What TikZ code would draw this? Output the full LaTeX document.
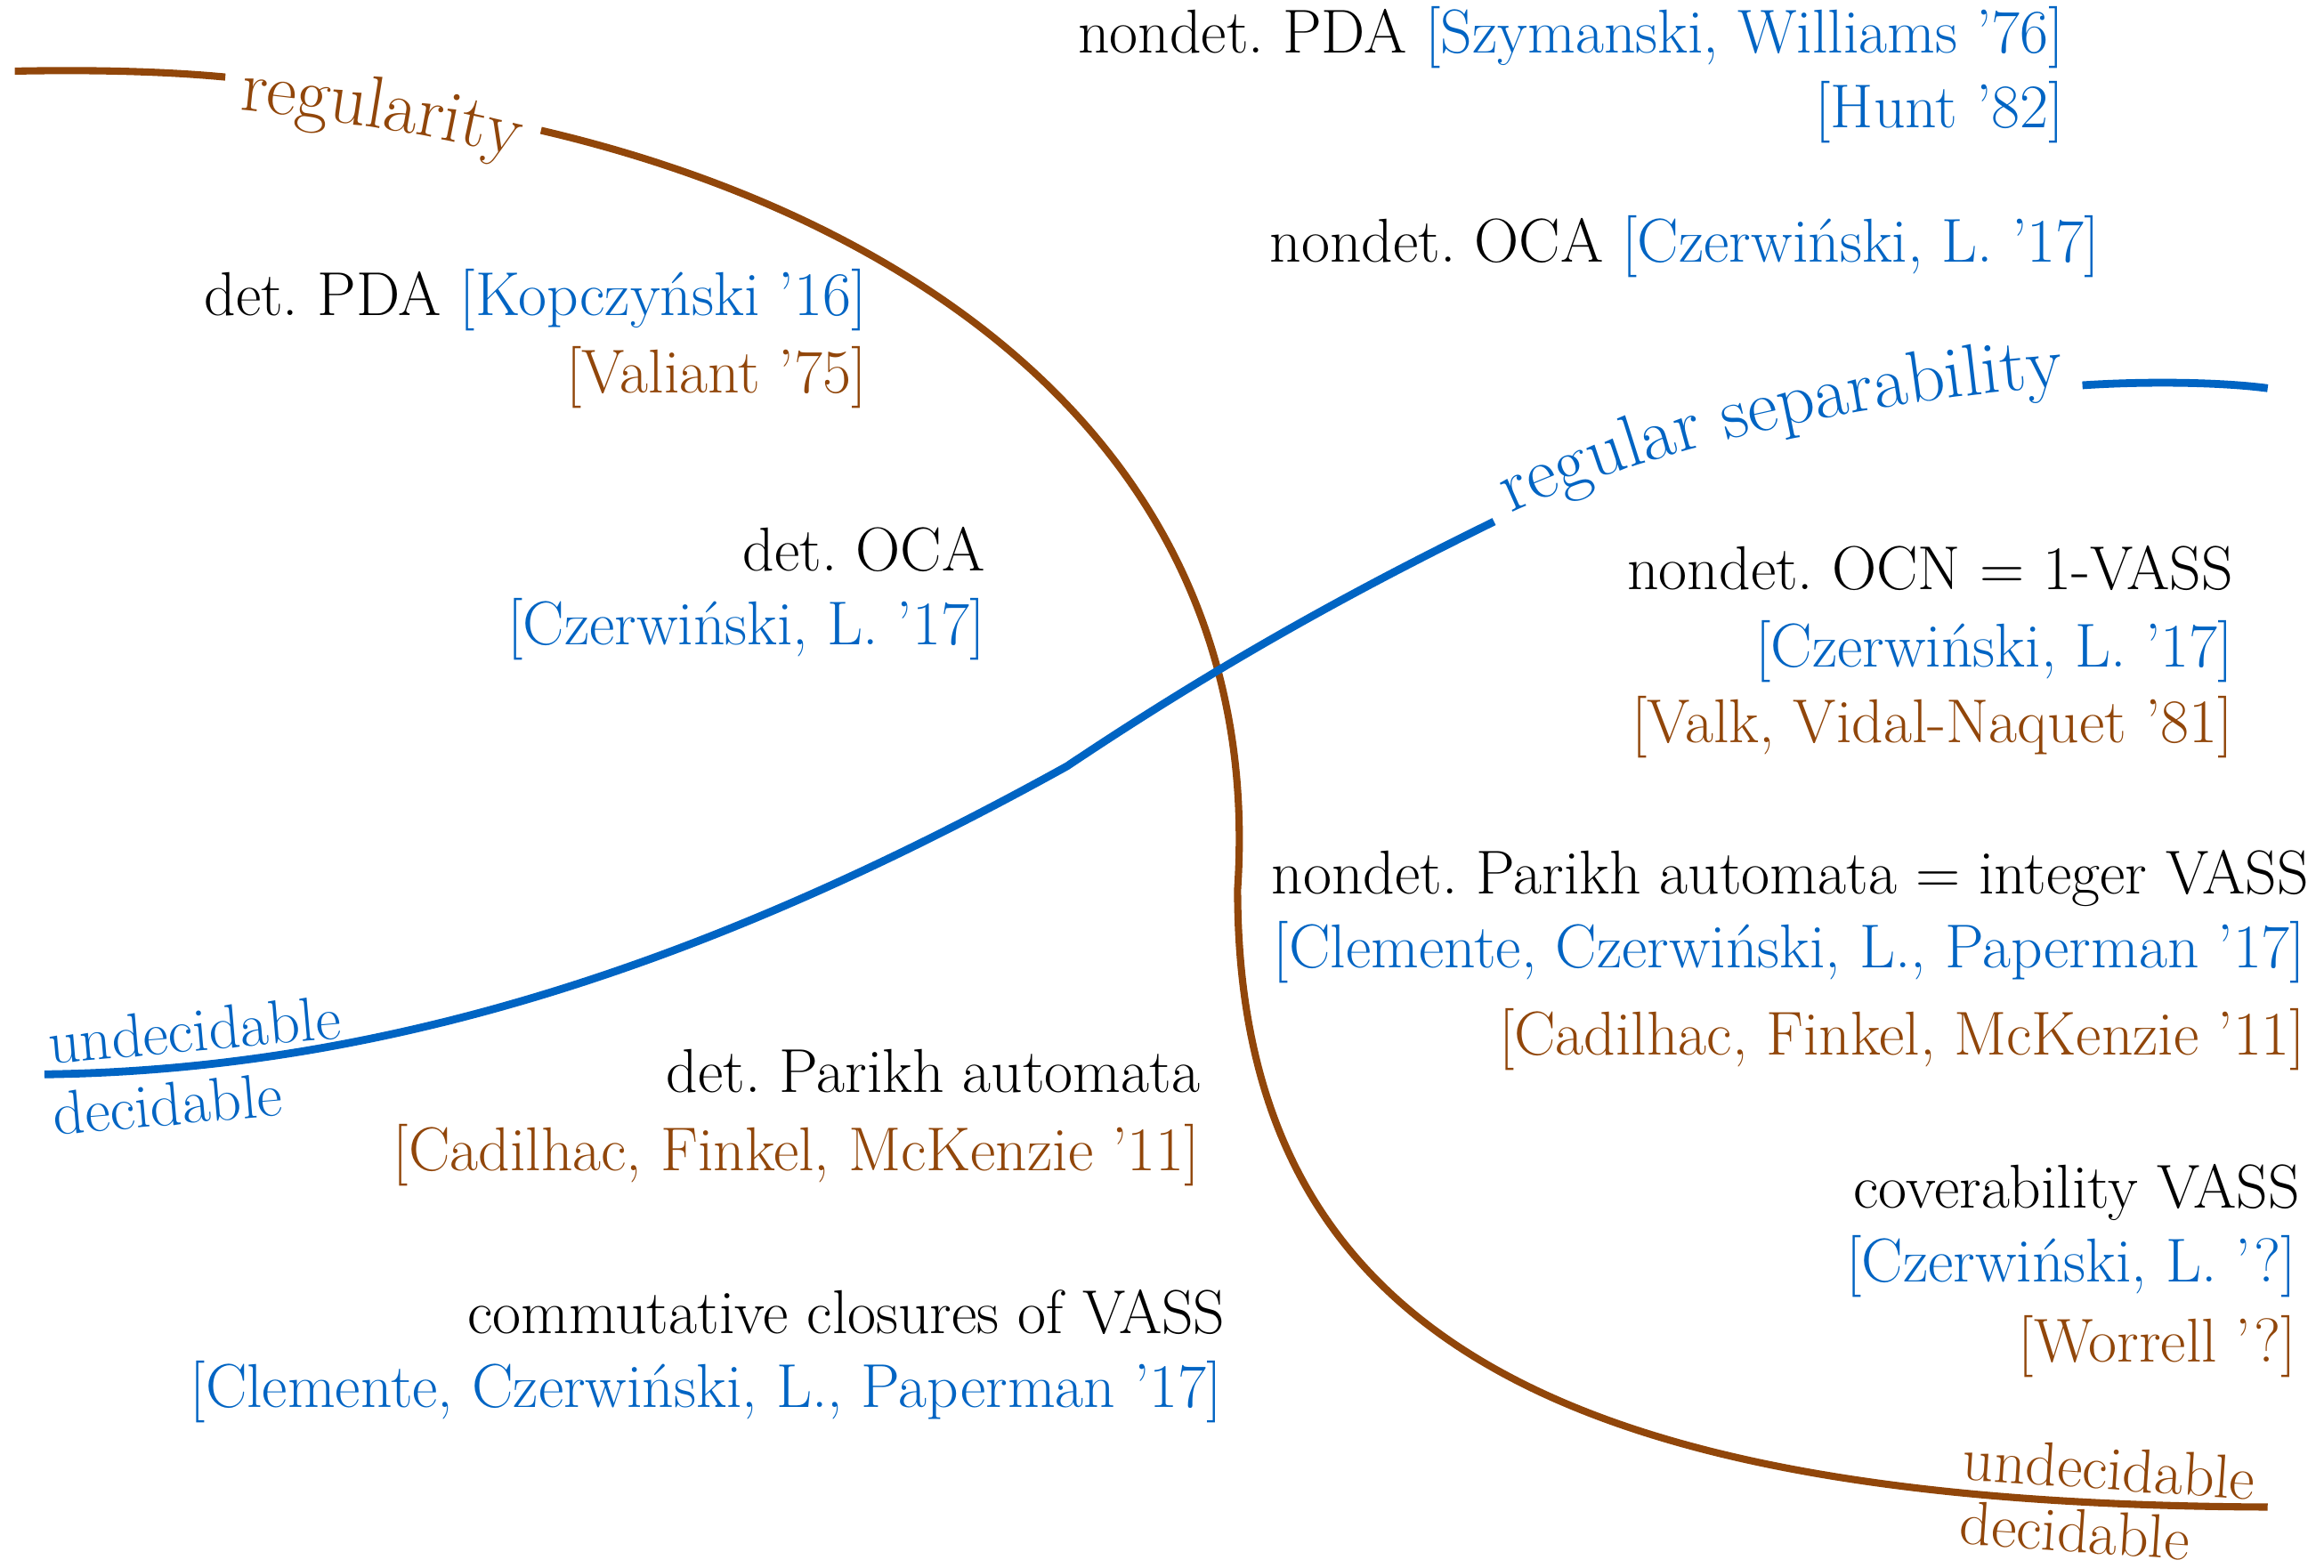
\documentclass[tikz,border=0pt]{standalone}
\usepackage{fontspec}
\usetikzlibrary{decorations.text}
\definecolor{regbrown}{RGB}{145,70,10}
\definecolor{sepblue}{RGB}{0,100,195}
\tikzset{
  regline/.style={draw=regbrown, line width=2.3pt},
  sepline/.style={draw=sepblue, line width=2.5pt},
  ref/.style={anchor=base east, inner sep=0pt},
}
\frenchspacing
\begin{document}
\begin{tikzpicture}[x=0.016652cm, y=0.016652cm,
    every node/.style={font=\fontsize{19.8}{24}\selectfont}]
  \useasboundingbox (0,0) rectangle (1568,-1058);
  % regularity curve
  \draw[regline] (10,-48) .. controls (60,-47) and (110,-48) .. (152,-52);
  \path[decorate, decoration={text along path, text align=center, raise=-10pt,
      text={|\color{regbrown}\fontsize{23.5}{28}\selectfont|regularity}}]
    (152,-52) .. controls (219,-58) and (297,-70) .. (365,-88);
  \draw[regline] (365,-88) .. controls (610,-145) and (855,-300) .. (835,-600)
    .. controls (835,-900) and (1050,-1015) .. (1530,-1017);
  % regular separability curve
  \draw[sepline] (30,-725) .. controls (260,-722) and (480,-650) .. (720,-517)
    .. controls (820,-450) and (910,-400) .. (1008,-352);
  \path[decorate, decoration={text along path, text align=center, raise=0pt,
      text={|\color{sepblue}\fontsize{23.5}{28}\selectfont|regular separability}}]
    (1008,-352) .. controls (1126,-294) and (1292,-267) .. (1405,-260);
  \draw[sepline] (1405,-260) .. controls (1450,-257) and (1500,-258) .. (1530,-262);
  % border labels
  \node[rotate=5, text=sepblue] (bundec) at (131,-695) {undecidable};
  \node[rotate=5, text=sepblue] (bdec) at (113,-745) {decidable};
  \node[rotate=-4, text=regbrown] (rundec) at (1423,-991) {undecidable};
  \node[rotate=-4, text=regbrown] (rdec) at (1400,-1033) {decidable};
  % models and references
  \node[ref] (npda) at (1393,-36) {nondet. PDA \textcolor{sepblue}{[Szymanski, Williams ’76]}};
  \node[ref, text=sepblue] (npdab) at (1393,-86) {[Hunt ’82]};
  \node[ref] (noca) at (1417,-177) {nondet. OCA \textcolor{sepblue}{[Czerwiński, L. ’17]}};
  \node[ref] (dpda) at (585,-213) {det. PDA \textcolor{sepblue}{[Kopczyński ’16]}};
  \node[ref, text=regbrown] (dpdab) at (585,-265) {[Valiant ’75]};
  \node[ref] (doca) at (665,-385) {det. OCA};
  \node[ref, text=sepblue] (docab) at (665,-435) {[Czerwiński, L. ’17]};
  \node[ref] (nocn) at (1507,-398) {nondet. OCN = 1-VASS};
  \node[ref, text=sepblue] (nocnb) at (1507,-450) {[Czerwiński, L. ’17]};
  \node[ref, text=regbrown] (nocnc) at (1507,-501) {[Valk, Vidal-Naquet ’81]};
  \node[ref] (npar) at (1558,-603) {nondet. Parikh automata = integer VASS};
  \node[ref, text=sepblue] (nparb) at (1556,-653) {[Clemente, Czerwiński, L., Paperman ’17]};
  \node[ref, text=regbrown] (nparc) at (1556,-712) {[Cadilhac, Finkel, McKenzie ’11]};
  \node[ref] (dpar) at (810,-737) {det. Parikh automata};
  \node[ref, text=regbrown] (dparb) at (810,-790) {[Cadilhac, Finkel, McKenzie ’11]};
  \node[ref] (comm) at (827,-900) {commutative closures of VASS};
  \node[ref, text=sepblue] (commb) at (825,-950) {[Clemente, Czerwiński, L., Paperman ’17]};
  \node[ref] (cov) at (1552,-815) {coverability VASS};
  \node[ref, text=sepblue] (covb) at (1550,-865) {[Czerwiński, L. ’?]};
  \node[ref, text=regbrown] (covc) at (1550,-919) {[Worrell ’?]};
\end{tikzpicture}
\end{document}
